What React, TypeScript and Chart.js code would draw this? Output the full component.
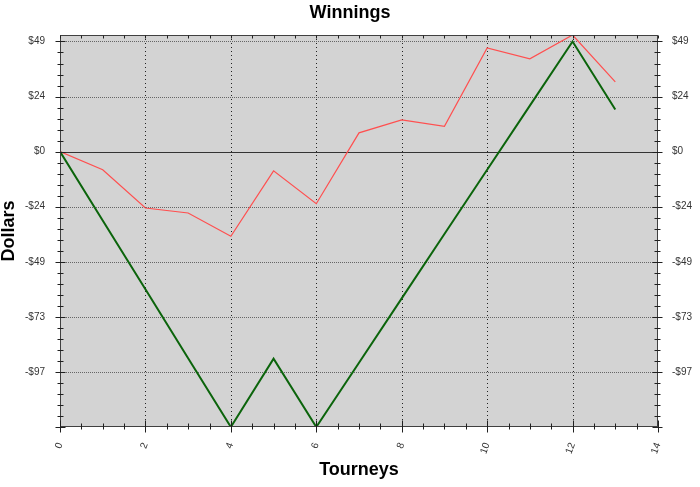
import React, { useEffect, useRef } from "react";
import { Chart, registerables } from "chart.js";

Chart.register(...registerables);

// ---- data ----
const tourneys = [0, 1, 2, 3, 4, 5, 6, 7, 8, 9, 10, 11, 12, 13];
const redSeries = [0, -8.0, -24.9, -27.1, -37.4, -8.5, -23.0, 8.3, 14.0, 11.2, 45.8, 41.0, 51.5, 30.8];
const greenSeries = [0, -30.4, -60.8, -91.2, -121.6, -91.4, -121.6, -93.2, -64.8, -36.4, -8.0, 20.3, 48.6, 18.6];
const yTickValues = [48.64, 24.32, 0, -24.32, -48.64, -72.96, -97.28];
const xTickValues = [0, 2, 4, 6, 8, 10, 12, 14];
const yMin = -121.6;
const yMax = 51.5;
const xMin = 0;
const xMax = 14;

const FONT = "'Liberation Sans', Arial, sans-serif";

const fmtDollar = (v: number) => {
  const r = Math.round(v);
  return (r < 0 ? "-" : "") + "$" + Math.abs(r);
};

const framePlugin = {
  id: "frame",
  beforeDatasetsDraw(chart: any) {
    const { ctx, chartArea: a, scales } = chart;
    const xs = scales.x;
    const ys = scales.y;
    ctx.save();
    ctx.fillStyle = "#d3d3d3";
    ctx.fillRect(a.left, a.top, a.right - a.left, a.bottom - a.top);
    ctx.lineWidth = 1;
    // horizontal dotted grid
    ctx.strokeStyle = "#666666";
    ctx.setLineDash([1, 1]);
    for (const v of yTickValues) {
      if (v === 0) continue;
      const py = Math.round(ys.getPixelForValue(v)) + 0.5;
      ctx.beginPath();
      ctx.moveTo(a.left, py);
      ctx.lineTo(a.right, py);
      ctx.stroke();
    }
    // vertical dotted grid
    ctx.strokeStyle = "#222222";
    ctx.setLineDash([1, 3]);
    for (const v of xTickValues) {
      if (v <= xMin || v >= xMax) continue;
      const px = Math.round(xs.getPixelForValue(v)) + 0.5;
      ctx.beginPath();
      ctx.moveTo(px, a.top);
      ctx.lineTo(px, a.bottom);
      ctx.stroke();
    }
    ctx.setLineDash([]);
    // zero line
    ctx.strokeStyle = "#333333";
    const pz = Math.round(ys.getPixelForValue(0)) + 0.5;
    ctx.beginPath();
    ctx.moveTo(a.left, pz);
    ctx.lineTo(a.right, pz);
    ctx.stroke();
    ctx.restore();
  },
  afterDatasetsDraw(chart: any) {
    const { ctx, chartArea: a, scales } = chart;
    const xs = scales.x;
    const ys = scales.y;
    const L = Math.round(a.left) + 0.5;
    const R = Math.round(a.right) - 0.5;
    const T = Math.round(a.top) + 0.5;
    const B = Math.round(a.bottom) - 0.5;
    ctx.save();
    ctx.strokeStyle = "#404040";
    ctx.lineWidth = 1;
    ctx.strokeRect(L, T, R - L, B - T);
    ctx.strokeStyle = "#202020";
    // y ticks (left & right)
    const yStep = 24.32 / 5;
    for (let k = -30; k <= 30; k++) {
      const v = k * yStep;
      if (v < yMin - 0.01 || v > yMax + 0.01) continue;
      const major = k % 5 === 0;
      const py = Math.round(ys.getPixelForValue(v)) + 0.5;
      const len = major ? 5 : 3;
      ctx.beginPath();
      ctx.moveTo(L - len, py);
      ctx.lineTo(L + len, py);
      ctx.moveTo(R - len, py);
      ctx.lineTo(R + len, py);
      ctx.stroke();
    }
    // x ticks (bottom & top)
    for (let k = 0; k <= 28; k++) {
      const v = k * 0.5;
      const major = k % 4 === 0;
      const px = Math.round(xs.getPixelForValue(v)) + 0.5;
      ctx.beginPath();
      if (major) {
        ctx.moveTo(px, B - 6);
        ctx.lineTo(px, B + 6);
      } else {
        ctx.moveTo(px, B - 3);
        ctx.lineTo(px, B + 3);
      }
      ctx.moveTo(px, T);
      ctx.lineTo(px, T + 3);
      ctx.stroke();
    }
    ctx.restore();
  },
};

export default function App() {
  const ref = useRef<HTMLCanvasElement | null>(null);
  useEffect(() => {
    document.body.style.margin = "0";
    const canvas = ref.current;
    if (!canvas) return;
    const chart = new Chart(canvas, {
      type: "line",
      data: {
        datasets: [
          {
            label: "Green",
            data: tourneys.map((t, i) => ({ x: t, y: greenSeries[i] })),
            borderColor: "#0b640b",
            borderWidth: 2,
            pointRadius: 0,
            tension: 0,
            fill: false,
          },
          {
            label: "Red",
            data: tourneys.map((t, i) => ({ x: t, y: redSeries[i] })),
            borderColor: "#ff4f4f",
            borderWidth: 1.2,
            pointRadius: 0,
            tension: 0,
            fill: false,
          },
        ],
      },
      options: {
        animation: false,
        responsive: false,
        devicePixelRatio: 1,
        layout: { padding: 0 },
        plugins: {
          legend: { display: false },
          tooltip: { enabled: false },
          title: {
            display: true,
            text: "Winnings",
            color: "#000",
            font: { family: FONT, size: 18, weight: "bold", lineHeight: 1.2 },
            padding: { top: 2, bottom: 11.4 },
          },
        },
        scales: {
          x: {
            type: "linear",
            min: xMin,
            max: xMax,
            afterBuildTicks: (s: any) => {
              s.ticks = xTickValues.map((v) => ({ value: v }));
            },
            afterFit: (s: any) => {
              s.height = 60;
            },
            ticks: {
              minRotation: 70,
              maxRotation: 70,
              padding: 14,
              color: "#333",
              font: { family: FONT, size: 10 },
              callback: (v: any) => String(v),
            },
            grid: { display: false, drawTicks: false },
            border: { display: false },
            title: {
              display: true,
              text: "Tourneys",
              color: "#000",
              font: { family: FONT, size: 18, weight: "bold", lineHeight: 1.2 },
              padding: { top: 0, bottom: 6 },
            },
          },
          y: {
            type: "linear",
            position: "left",
            min: yMin,
            max: yMax,
            afterBuildTicks: (s: any) => {
              s.ticks = yTickValues.map((v) => ({ value: v }));
            },
            afterFit: (s: any) => {
              s.width = 60;
            },
            ticks: {
              padding: 15,
              color: "#333",
              font: { family: FONT, size: 10 },
              callback: (v: any) => fmtDollar(Number(v)),
            },
            grid: { display: false, drawTicks: false },
            border: { display: false },
            title: {
              display: true,
              text: "Dollars",
              color: "#000",
              font: { family: FONT, size: 18, weight: "bold", lineHeight: 1.2 },
              padding: { top: -2, bottom: 0 },
            },
          },
          y2: {
            type: "linear",
            position: "right",
            min: yMin,
            max: yMax,
            afterBuildTicks: (s: any) => {
              s.ticks = yTickValues.map((v) => ({ value: v }));
            },
            afterFit: (s: any) => {
              s.width = 42;
            },
            ticks: {
              padding: 14,
              color: "#333",
              font: { family: FONT, size: 10 },
              callback: (v: any) => fmtDollar(Number(v)),
            },
            grid: { display: false, drawTicks: false },
            border: { display: false },
          },
        },
      },
      plugins: [framePlugin],
    } as any);
    return () => chart.destroy();
  }, []);
  return <canvas ref={ref} width={700} height={487} style={{ display: "block" }} />;
}
